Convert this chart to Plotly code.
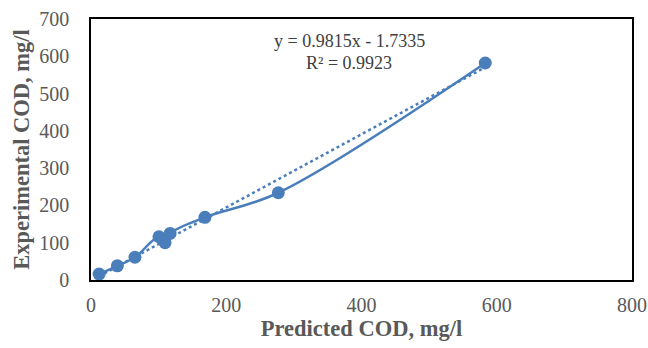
import plotly.graph_objects as go

predicted = [12, 39, 65, 100.5, 109.5, 117, 168.5, 277, 583]
experimental = [16, 38, 61, 116, 100, 125, 168, 234, 582]

slope = 0.9815
intercept = -1.7335
eq_text = "y = 0.9815x - 1.7335"
r2_text = "R² = 0.9923"

x_ticks = [0, 200, 400, 600, 800]
y_ticks = [0, 100, 200, 300, 400, 500, 600, 700]

blue = "#4a7ebb"
serif = "Liberation Serif, Times New Roman, serif"

trend_x = [min(predicted), max(predicted)]
trend_y = [slope * v + intercept for v in trend_x]

fig = go.Figure()
fig.add_trace(go.Scatter(x=trend_x, y=trend_y, mode="lines",
                         line=dict(color=blue, width=2.5, dash="dot"),
                         hoverinfo="skip", showlegend=False))
fig.add_trace(go.Scatter(x=predicted, y=experimental, mode="lines+markers",
                         line=dict(color=blue, width=2.5, shape="spline", smoothing=1.0),
                         marker=dict(color=blue, size=13),
                         showlegend=False))

fig.add_annotation(xref="paper", yref="paper", x=0.477, y=0.916, text=eq_text,
                   xanchor="center", yanchor="middle",
                   showarrow=False, font=dict(family=serif, size=18, color="#404040"))
fig.add_annotation(xref="paper", yref="paper", x=0.477, y=0.831, text=r2_text,
                   xanchor="center", yanchor="middle",
                   showarrow=False, font=dict(family=serif, size=18, color="#404040"))

axis_common = dict(showgrid=False, zeroline=False, showline=True, linecolor="black",
                   linewidth=1.5, mirror=True, ticks="", automargin=False,
                   tickfont=dict(family=serif, size=20, color="#595959"))

fig.update_xaxes(range=[0, 800], tickvals=x_ticks, ticklabelstandoff=6,
                 title=dict(text="<b>Predicted COD, mg/l</b>",
                            font=dict(family=serif, size=22.5, color="#595959"), standoff=2),
                 **axis_common)
fig.update_yaxes(range=[0, 700], tickvals=y_ticks, ticklabelstandoff=16,
                 title=dict(text="<b>Experimental COD, mg/l</b>",
                            font=dict(family=serif, size=22.5, color="#595959"), standoff=3),
                 **axis_common)

fig.update_layout(width=648, height=348, margin=dict(l=91, r=16, t=19, b=68),
                  paper_bgcolor="white", plot_bgcolor="white")

fig.write_html("out.html")
